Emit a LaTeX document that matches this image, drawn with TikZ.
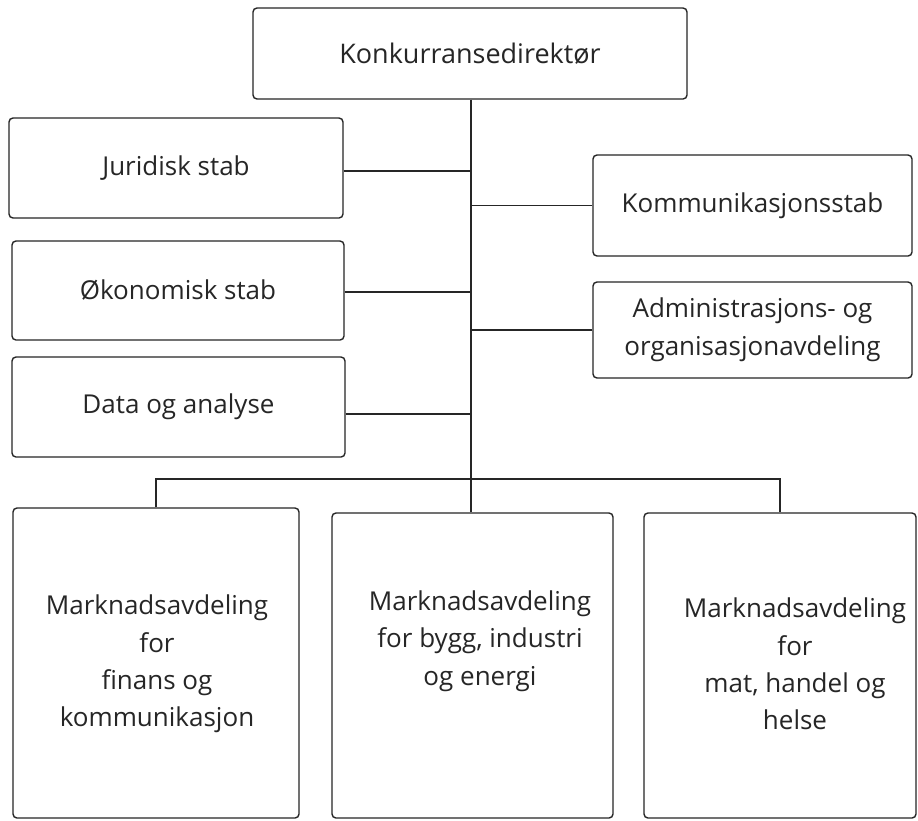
\documentclass[tikz,border=0pt]{standalone}
\usepackage{fontspec}
\setmainfont{Open Sans}
\usetikzlibrary{calc}
\begin{document}
\begin{tikzpicture}[x=1pt,y=-1pt,
  box/.style={draw=black!85, line width=1.4pt, rounded corners=4pt, inner sep=0pt, align=center,
    font=\fontsize{26}{38}\selectfont, text=black!85},
  txt/.style={align=center, font=\fontsize{26}{37.3}\selectfont, text=black!85, inner sep=0pt},
  conn/.style={draw=black!85, line width=1.3pt}]
\useasboundingbox[fill=white] (0,0) rectangle (918,820);
% top
\node[box, minimum width=434pt, minimum height=91pt, font=\fontsize{27}{38}\selectfont] (top) at (470,53.5) {Konkurransedirektør};
% left staff
\node[box, minimum width=334pt, minimum height=100pt] (jur) at (176,168) {Juridisk stab};
\node[box, minimum width=332pt, minimum height=99pt] (oko) at (178,290.5) {Økonomisk stab};
\node[box, minimum width=333pt, minimum height=100pt] (dat) at (178.5,407) {Data og analyse};
% right staff
\node[box, minimum width=319pt, minimum height=101pt] (kom) at (752.5,205.5) {Kommunikasjonsstab};
\node[box, minimum width=319pt, minimum height=96pt] (adm) at (752.5,330) {Administrasjons- og\\organisasjonavdeling};
% bottom departments
\node[box, minimum width=286pt, minimum height=310pt] (m1) at (156,663) {};
\node[box, minimum width=281pt, minimum height=305pt] (m2) at (472.5,665.5) {};
\node[box, minimum width=272pt, minimum height=305pt] (m3) at (780,665.5) {};
\node[txt] (m1t) at (157,664) {Marknadsavdeling\\for\\finans og\\kommunikasjon};
\node[txt] (m2t) at (480,641) {Marknadsavdeling\\for bygg, industri\\og energi};
\node[txt] (m3t) at (795,664) {Marknadsavdeling\\for\\mat, handel og\\helse};
% connectors
\coordinate (bus) at (471,479);
\coordinate (busL) at (m1.north |- bus);
\coordinate (busR) at (m3.north |- bus);
\draw[conn] (top.south -| bus) -- (bus) -- (m2.north -| bus);
\draw[conn] (m1.north) -- (busL) -- (busR) -- (m3.north);
\draw[conn] ($(jur.east)+(0,3)$) -- ($(jur.east -| bus)+(0,3)$);
\draw[conn] ($(oko.east)+(0,1.5)$) -- ($(oko.east -| bus)+(0,1.5)$);
\draw[conn] ($(dat.east)+(0,7)$) -- ($(dat.east -| bus)+(0,7)$);
\draw[conn] (kom.west) -- (kom.west -| bus);
\draw[conn] (adm.west) -- (adm.west -| bus);
\end{tikzpicture}
\end{document}
